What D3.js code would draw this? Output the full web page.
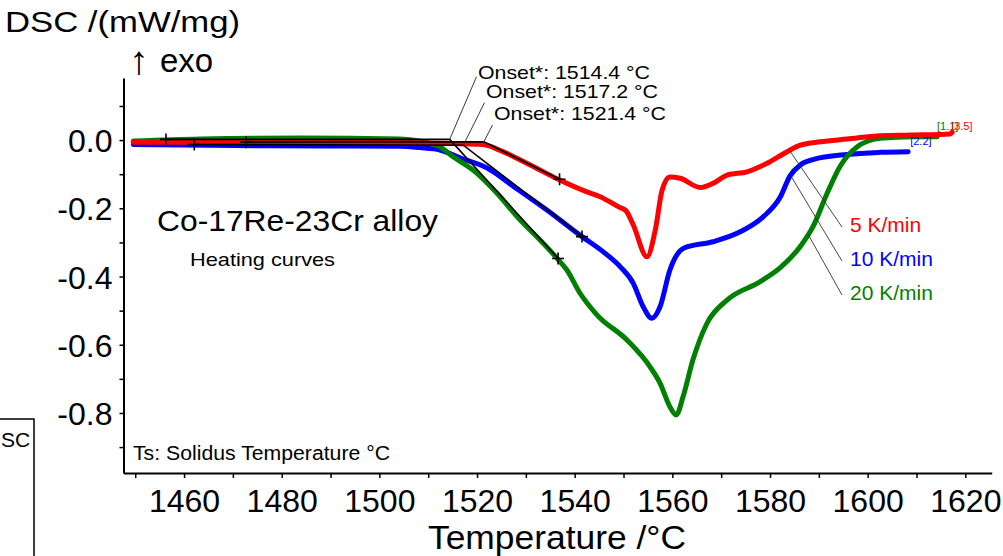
<!DOCTYPE html>
<html>
<head>
<meta charset="utf-8">
<script src="https://cdn.jsdelivr.net/npm/d3@7/dist/d3.min.js"></script>
<style>
  html,body{margin:0;padding:0;background:#fff;}
  svg{display:block;font-family:"Liberation Sans",Arial,sans-serif;}
</style>
</head>
<body>
<svg id="chart" width="1003" height="556"></svg>
<script>
// ── data (temperature °C, DSC mW/mg) ──
const rates = ["5 K/min", "10 K/min", "20 K/min"];
const colors = ["#ff0000", "#0000ff", "#008000"];
const endLabels = ["[3.5]", "[2.2]", "[1.1]"];
const onsetTemps = [1521.4, 1517.2, 1514.4];
const onsetDsc = [-0.005, -0.015, 0.002];

const curve5 = [[1449.6,-0.006],[1470,-0.006],[1490,-0.006],[1508.3,-0.008],[1515,-0.010],
  [1521.2,-0.013],[1525.3,-0.034],[1530.9,-0.073],[1536.6,-0.115],[1542.5,-0.152],
  [1545.2,-0.166],[1549.3,-0.198],[1550.5,-0.207],[1552.0,-0.249],[1554.8,-0.342],
  [1556.5,-0.264],[1557.9,-0.147],[1559.5,-0.108],[1561.6,-0.112],[1565.7,-0.139],
  [1568.3,-0.127],[1571.2,-0.103],[1575.3,-0.093],[1579.4,-0.068],[1583.5,-0.034],
  [1586.2,-0.015],[1590.3,-0.005],[1595.8,0.003],[1602.6,0.013],[1609.3,0.015],
  [1616.9,0.018],[1617.3,0.023]];
const curve10 = [[1449.6,-0.013],[1470,-0.016],[1490,-0.017],[1504.2,-0.018],[1508.3,-0.022],
  [1512.4,-0.029],[1516.5,-0.052],[1522.1,-0.082],[1527.4,-0.135],[1534.3,-0.205],
  [1541.5,-0.283],[1545.8,-0.327],[1549.3,-0.371],[1552.0,-0.420],[1554.0,-0.488],
  [1555.8,-0.522],[1557.5,-0.488],[1559.5,-0.381],[1562.3,-0.317],[1568.3,-0.298],
  [1573.9,-0.269],[1578.6,-0.225],[1582.1,-0.167],[1584.1,-0.105],[1586.2,-0.073],
  [1588.8,-0.057],[1595.8,-0.042],[1602.6,-0.036],[1608.3,-0.034]];
const curve20 = [[1449.6,-0.003],[1463.3,0.003],[1483.8,0.006],[1504.2,0.003],[1508.3,-0.003],
  [1512.4,-0.020],[1515.1,-0.049],[1519.2,-0.088],[1524.1,-0.156],[1528.8,-0.234],
  [1532.9,-0.293],[1536.4,-0.347],[1538.4,-0.381],[1541.1,-0.449],[1544.6,-0.513],
  [1550.7,-0.586],[1555.4,-0.664],[1557.5,-0.713],[1559.5,-0.782],[1560.8,-0.806],
  [1562.2,-0.752],[1564.2,-0.645],[1567.1,-0.537],[1571.2,-0.469],[1578.0,-0.415],
  [1582.1,-0.374],[1586.2,-0.312],[1588.8,-0.254],[1591.7,-0.156],[1594.3,-0.078],
  [1597.8,-0.020],[1602.5,0.005],[1609.3,0.010],[1614.2,0.010]];
const curves = [curve5, curve10, curve20];

// onset construction: baseline point and tangent end point per curve
const baseCross = [[1472.7,-0.006],[1462.1,-0.013],[1456.3,0.002]];
const tangentCross = [[1536.9,-0.115],[1541.5,-0.283],[1536.6,-0.347]];
// temperature where the legend leader touches each curve
const legendAt = [1584.0, 1584.2, 1587.8];

const xTicks = d3.range(1450, 1621, 10);
const yTicks = [0.1, 0, -0.1, -0.2, -0.3, -0.4, -0.5, -0.6, -0.7, -0.8, -0.9];

// ── layout ──
const MG = {l:123.5, r:991.7, t:78, b:473};
const svg = d3.select("#chart");
const xSc = d3.scaleLinear().domain([1447.6, 1625.4]).range([MG.l, MG.r]);
const ySc = d3.scaleLinear().domain([-0.976, 0.182]).range([MG.b, MG.t]);

function label(x, y, txt, size, opt) {
  opt = opt || {};
  const t = svg.append("text").attr("x", x).attr("y", y)
    .attr("font-size", size).attr("fill", opt.fill || "#000")
    .attr("text-anchor", opt.anchor || "start").text(txt);
  if (opt.width) t.attr("textLength", opt.width).attr("lengthAdjust", "spacingAndGlyphs");
  return t;
}

// axes
const xAx = svg.append("g").attr("transform", `translate(0,${MG.b})`)
  .call(d3.axisBottom(xSc).tickValues(xTicks).tickSize(5).tickSizeOuter(0)
    .tickFormat(d => d % 20 === 0 ? d : ""));
const yAx = svg.append("g").attr("transform", `translate(${MG.l},0)`)
  .call(d3.axisLeft(ySc).tickValues(yTicks).tickSize(4).tickSizeOuter(0).tickPadding(7)
    .tickFormat(d => Math.round(d * 10) % 2 === 0 ? d.toFixed(1) : ""));
[xAx, yAx].forEach(a => {
  a.select(".domain").attr("stroke", "#000").attr("stroke-width", 2);
  a.selectAll(".tick line").attr("stroke", "#000").attr("stroke-width", 1.5);
  a.selectAll("text").attr("font-family", null).attr("font-size", 32).attr("fill", "#000");
});
xAx.selectAll("text").attr("dy", 0).attr("y", 39);
yAx.selectAll("text").attr("dy", "0.36em");

// curves (blue first, red on top)
const line = d3.line().x(d => xSc(d[0])).y(d => ySc(d[1])).curve(d3.curveMonotoneX);
[1, 2, 0].forEach(i => {
  svg.append("path").datum(curves[i]).attr("d", line)
    .attr("fill", "none").attr("stroke", colors[i]).attr("stroke-width", 5)
    .attr("stroke-linejoin", "round").attr("stroke-linecap", "round");
});

// onset tangents + crosses
const crossPath = "M-6,0H6M0,-6V6";
curves.forEach((c, i) => {
  const pts = [baseCross[i], [onsetTemps[i], onsetDsc[i]], tangentCross[i]];
  svg.append("path").attr("d", d3.line().x(d => xSc(d[0])).y(d => ySc(d[1]))(pts))
    .attr("fill", "none").attr("stroke", "#000").attr("stroke-width", 1.6);
  [baseCross[i], tangentCross[i]].forEach(p => {
    svg.append("path").attr("d", crossPath)
      .attr("transform", `translate(${xSc(p[0])},${ySc(p[1])})`)
      .attr("stroke", "#000").attr("stroke-width", 1.6);
  });
});

// onset labels (top to bottom: 20, 10, 5 K/min)
const onsetBox = [[478, 79, 76.7], [486, 98, 102.7], [494, 120, 125]];
[2, 1, 0].forEach((i, k) => {
  const [tx, ty, ly] = onsetBox[k];
  svg.append("line").attr("x1", tx - 1.5).attr("y1", ly)
    .attr("x2", xSc(onsetTemps[i])).attr("y2", ySc(onsetDsc[i]))
    .attr("stroke", "#222").attr("stroke-width", 0.9);
  label(tx, ty, `Onset*: ${onsetTemps[i].toFixed(1)} °C`, 19, {width: 172});
});

// legend with leader lines
const interp = (c, t) => {
  const j = d3.bisector(d => d[0]).left(c, t);
  const a = c[j - 1], b = c[j];
  return a[1] + (b[1] - a[1]) * (t - a[0]) / (b[0] - a[0]);
};
rates.forEach((r, i) => {
  const ly = 232 + i * 34;
  svg.append("line")
    .attr("x1", xSc(legendAt[i])).attr("y1", ySc(interp(curves[i], legendAt[i])))
    .attr("x2", 842).attr("y2", ly - 5)
    .attr("stroke", "#333").attr("stroke-width", 0.9);
  label(850, ly, r, 21, {fill: colors[i]});
});

// end-of-run mass labels
const endOff = [[-1, -2], [2, -6.5], [0, -6.5]];
[2, 1, 0].forEach(i => {
  const e = curves[i][curves[i].length - 1];
  label(xSc(e[0]) + endOff[i][0], ySc(e[1]) + endOff[i][1], endLabels[i], 11, {fill: colors[i]});
});

// titles and notes
label(5, 32, "DSC /(mW/mg)", 30, {width: 235});
const exo = svg.append("text").attr("x", 129).attr("y", 72).attr("font-size", 33);
exo.append("tspan").attr("font-size", 40).attr("dy", 2).text("\u2191");
exo.append("tspan").attr("x", 160).attr("dy", -2).text("exo");
label(157, 231, "Co-17Re-23Cr alloy", 30, {width: 281});
label(190, 266, "Heating curves", 19, {width: 145});
label(133, 460, "Ts: Solidus Temperature °C", 20, {width: 257});
label(557, 549, "Temperature /°C", 33, {anchor: "middle", width: 258});

// legend box cut by the left edge of the picture
svg.append("path").attr("d", "M0,419H34V556").attr("fill", "none")
  .attr("stroke", "#000").attr("stroke-width", 1.5);
label(1, 447, "SC", 21);
</script>
</body>
</html>
